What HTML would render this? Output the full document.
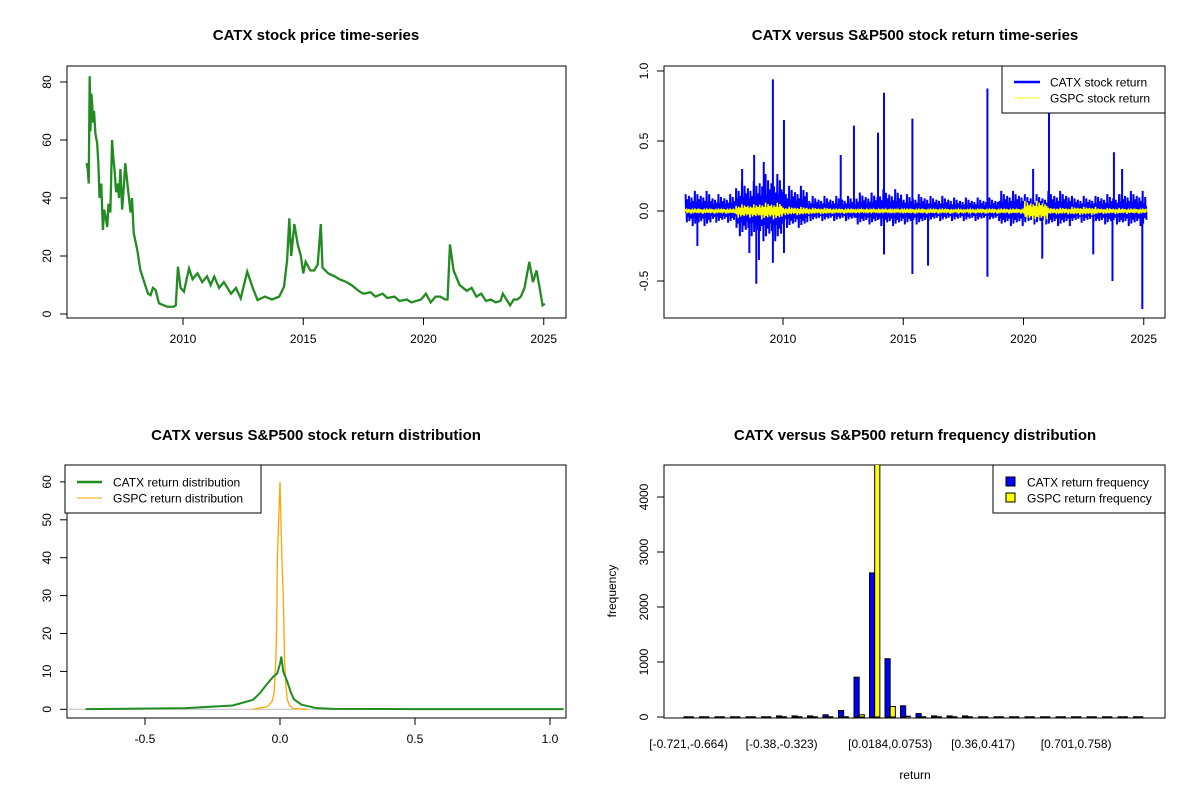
<!DOCTYPE html>
<html><head><meta charset="utf-8"><style>
html,body{margin:0;padding:0;background:#fff;}
svg{display:block;font-family:"Liberation Sans",Arial,sans-serif;}
</style></head><body>
<svg id="chart" width="1200" height="800" viewBox="0 0 1200 800">
<rect x="0" y="0" width="1200" height="800" fill="#fff"/>
<g id="p1"></g>
<g id="p2"></g>
<g id="p3"></g>
<g id="p4"></g>
</svg>
<script>
// ---------- Panel 1: price ----------
const priceDates=[2005.99,2006.04,2006.08,2006.12,2006.15,2006.19,2006.22,2006.26,2006.3,2006.36,2006.43,2006.48,2006.53,2006.6,2006.67,2006.72,2006.77,2006.85,2006.9,2006.98,2007.05,2007.1,2007.15,2007.22,2007.28,2007.34,2007.4,2007.47,2007.54,2007.6,2007.7,2007.82,2007.88,2007.95,2008.1,2008.23,2008.35,2008.45,2008.55,2008.65,2008.75,2008.86,2009.0,2009.2,2009.35,2009.6,2009.7,2009.79,2009.9,2010.04,2010.15,2010.25,2010.4,2010.6,2010.8,2011.0,2011.15,2011.3,2011.5,2011.7,2012.0,2012.2,2012.4,2012.67,2012.9,2013.1,2013.4,2013.7,2014.0,2014.2,2014.33,2014.42,2014.5,2014.63,2014.77,2014.9,2015.0,2015.1,2015.3,2015.45,2015.6,2015.73,2015.8,2016.04,2016.3,2016.5,2016.8,2017,2017.3,2017.5,2017.8,2018,2018.3,2018.5,2018.8,2019,2019.3,2019.5,2019.7,2019.9,2020.1,2020.3,2020.5,2020.7,2020.9,2021.0,2021.1,2021.25,2021.5,2021.8,2022.0,2022.2,2022.4,2022.6,2022.8,2023,2023.2,2023.3,2023.45,2023.6,2023.75,2023.9,2024.05,2024.2,2024.4,2024.55,2024.7,2024.85,2024.95,2025.05];
const priceValues=[52,50,45,82,63,76,73,66,70,62,59,52,40,45,29,36,34,30,38,35,60,54,50,42,45,40,50,36,44,52,44,35,40,28,22,15,12,9.4,7,6.5,9,8.3,3.7,3,2.5,2.5,3,16.3,9,7.7,12,15.7,12,14,11,13,10,12.9,9,11,7,9,5.4,14.6,9,4.8,6,5,6,9.4,18.6,33,20,31,24,20,14,18,15,15,17,31,16,14,13,12,11,10,8,7,7.5,6,7,5.5,6,4.5,5,4,4.5,5,7,4,6,6,5,5,24,15,10,8,9,6,7,4.5,5,4,4.5,7,5,3,5,5,6,9,18,11,15,8,3,3.5];
const priceYTicks=[0,20,40,60,80];
const yearTicks=[2010,2015,2020,2025];
// ---------- Panel 2: returns ----------
const envYears=[2006,2007,2008,2009,2010,2011,2012,2013,2014,2015,2016,2017,2018,2019,2020,2021,2022,2023,2024,2025];
const catxUpper=[0.12,0.10,0.18,0.22,0.15,0.09,0.09,0.11,0.13,0.10,0.09,0.08,0.08,0.12,0.10,0.12,0.09,0.10,0.12,0.10];
const catxLower=[-0.09,-0.07,-0.15,-0.18,-0.10,-0.06,-0.06,-0.08,-0.09,-0.08,-0.06,-0.06,-0.06,-0.09,-0.08,-0.09,-0.07,-0.08,-0.09,-0.07];
const gspcAmp=[0.015,0.015,0.04,0.05,0.025,0.02,0.015,0.012,0.012,0.015,0.015,0.01,0.015,0.015,0.06,0.02,0.025,0.018,0.015,0.015];
const spikeDates=[2009.58,2010.04,2008.89,2009.58,2010.04,2008.8,2012.95,2014.2,2013.95,2015.38,2015.38,2016.03,2014.2,2018.5,2018.5,2021.06,2020.78,2023.76,2023.7,2024.94,2024.1,2012.4,2020.4,2008.3,2006.44,2022.9,2009.2,2009.0,2008.6];
const spikeValues=[0.94,0.65,-0.52,-0.37,-0.30,0.40,0.61,0.845,0.56,0.66,-0.45,-0.39,-0.31,0.875,-0.47,0.70,-0.34,0.42,-0.50,-0.70,0.30,0.40,0.30,0.30,-0.25,-0.31,0.35,-0.35,-0.30];
const retYTicks=[-0.5,0,0.5,1.0];
const retYLabels=["-0.5","0.0","0.5","1.0"];
// ---------- Panel 3: densities ----------
const catxDensX=[-0.72,-0.35,-0.175,-0.1,-0.075,-0.05,-0.025,-0.01,0,0.005,0.012,0.027,0.04,0.052,0.08,0.136,0.2,0.5,1.05];
const catxDensY=[0.05,0.3,1.0,2.5,4.2,6.5,8.6,9.5,12,13.9,10,7.3,4.5,2.6,1.2,0.3,0.1,0.05,0.05];
const gspcDensX=[-0.1,-0.047,-0.03,-0.022,-0.016,-0.012,-0.01,-0.005,0,0.004,0.008,0.012,0.017,0.022,0.027,0.035,0.05,0.1];
const gspcDensY=[0,0.7,2,4.2,12,21.8,39,50,60,48,38,30,13,6,2.5,1,0.2,0];
const densXTicks=[-0.5,0,0.5,1.0];
const densXLabels=["-0.5","0.0","0.5","1.0"];
const densYTicks=[0,10,20,30,40,50,60];
// ---------- Panel 4: histogram ----------
const binIndex=[0,1,2,3,4,5,6,7,8,9,10,11,12,13,14,15,16,17,18,19,20,21,22,23,24,25,26,27,28,29];
const catxCounts=[0,0,0,0,0,0,20,20,20,40,118,724,2620,1060,204,62,20,20,20,0,0,0,0,0,0,0,0,0,0,0];
const gspcCounts=[0,0,0,0,0,0,0,0,0,0,0,40,4700,191,10,0,0,0,0,0,0,0,0,0,0,0,0,0,0,0];
const binLabelIdx=[0,6,13,19,25];
const binLabels=["[-0.721,-0.664)","[-0.38,-0.323)","[0.0184,0.0753)","[0.36,0.417)","[0.701,0.758)"];
const freqYTicks=[0,1000,2000,3000,4000];

const NS="http://www.w3.org/2000/svg";
function mk(parent,tag,attrs,txt){const e=document.createElementNS(NS,tag);for(const k in attrs)e.setAttribute(k,attrs[k]);if(txt!==undefined)e.textContent=txt;parent.appendChild(e);return e;}
const P1=document.getElementById('p1'),P2=document.getElementById('p2'),P3=document.getElementById('p3'),P4=document.getElementById('p4');

function frame(g,x0,y0,x1,y1,title,tx,ty){
  let r=mk(g,'rect',{x:x0,y:y0,width:x1-x0,height:y1-y0,fill:'none',stroke:'#000','stroke-width':1});
  
  
  let t=mk(g,'text',{x:tx,y:ty,'text-anchor':'middle','font-size':15,'font-weight':'bold'},title);
  
  
}
function xAxis(g,ticks,labels,sx,yb){
  let l=mk(g,'line',{x1:sx(ticks[0]),x2:sx(ticks[ticks.length-1]),y1:yb,y2:yb,stroke:'#000'});
  
  
  ticks.forEach((v,i)=>{
    let t=mk(g,'line',{x1:sx(v),x2:sx(v),y1:yb,y2:yb+7,stroke:'#000'});
    
    
    let s=mk(g,'text',{x:sx(v),y:yb+25,'text-anchor':'middle','font-size':12},labels[i]);
    
    
  });
}
function yAxis(g,ticks,labels,sy,xb){
  let l=mk(g,'line',{x1:xb,x2:xb,y1:sy(ticks[0]),y2:sy(ticks[ticks.length-1]),stroke:'#000'});
  
  
  ticks.forEach((v,i)=>{
    let t=mk(g,'line',{x1:xb-7,x2:xb,y1:sy(v),y2:sy(v),stroke:'#000'});
    
    
    let x=xb-16;
    let s=mk(g,'text',{x:x,y:sy(v),'text-anchor':'middle','font-size':12,transform:`rotate(-90 ${x} ${sy(v)})`},labels[i]);
    
    
  });
}

// Panel 1
const p1x=y=>183+(y-2010)*24.05, p1y=v=>314-v*2.9;
frame(P1,67,66,566,318,'CATX stock price time-series',316,40);
xAxis(P1,yearTicks,yearTicks.map(String),p1x,318);
yAxis(P1,priceYTicks,priceYTicks.map(String),p1y,67);
let pl=mk(P1,'polyline',{points:priceDates.map((d,i)=>p1x(d)+','+p1y(priceValues[i])).join(' '),fill:'none',stroke:'#228B22','stroke-width':2.3,'stroke-linejoin':'miter'});



// Panel 2
const p2x=y=>783+(y-2010)*24.05, p2y=v=>211-v*140;
frame(P2,664,66,1165,318,'CATX versus S&P500 stock return time-series',915,40);
xAxis(P2,yearTicks,yearTicks.map(String),p2x,318);
yAxis(P2,retYTicks,retYLabels,p2y,664);
const pattern=[1,0.35,0.7,0.15,0.9,0.5,0.25,0.8,0.4,0.6,0.3,1.2,0.2,0.55];
function envAt(arr,t){let i=Math.min(Math.max(Math.floor(t-envYears[0]),0),arr.length-1);return arr[i];}
let bpts=[],ypts=[],k=0;
for(let t=2005.95;t<=2025.1;t+=0.035,k++){
  const m=pattern[k%pattern.length];
  bpts.push(p2x(t)+','+p2y(envAt(catxUpper,t)*m));
  bpts.push(p2x(t+0.017)+','+p2y(envAt(catxLower,t)*pattern[(k+3)%pattern.length]));
  ypts.push(p2x(t)+','+p2y(envAt(gspcAmp,t)*m));
  ypts.push(p2x(t+0.017)+','+p2y(-envAt(gspcAmp,t)*pattern[(k+5)%pattern.length]));
}
let bl=mk(P2,'polyline',{points:bpts.join(' '),fill:'none',stroke:'#0000FF','stroke-width':2});


spikeDates.forEach((d,i)=>{
  let s=mk(P2,'line',{x1:p2x(d),x2:p2x(d),y1:p2y(0),y2:p2y(spikeValues[i]),stroke:'#0000FF','stroke-width':2});
  
  
});
let yl=mk(P2,'polyline',{points:ypts.join(' '),fill:'none',stroke:'#FFFF00','stroke-width':1.5});


let lg2=mk(P2,'g',{});


mk(lg2,'rect',{x:1002,y:66,width:163,height:47,fill:'#fff',stroke:'#000'});
mk(lg2,'line',{x1:1014,x2:1040,y1:82,y2:82,stroke:'#0000FF','stroke-width':2.5});
mk(lg2,'line',{x1:1014,x2:1040,y1:98,y2:98,stroke:'#FFFF00','stroke-width':1});
mk(lg2,'text',{x:1050,y:86.5,'font-size':12},'CATX stock return');
mk(lg2,'text',{x:1050,y:102.5,'font-size':12},'GSPC stock return');

// Panel 3
const p3x=x=>280+x*270, p3y=v=>709.3-v*3.79;
frame(P3,67,465,566,718,'CATX versus S&P500 stock return distribution',316,440);
xAxis(P3,densXTicks,densXLabels,p3x,718);
yAxis(P3,densYTicks,densYTicks.map(String),p3y,67);
let base=mk(P3,'line',{x1:67,x2:566,y1:p3y(0),y2:p3y(0),stroke:'#bbb'});


let gd=mk(P3,'polyline',{points:gspcDensX.map((x,i)=>p3x(x)+','+p3y(gspcDensY[i])).join(' '),fill:'none',stroke:'#FFA500','stroke-width':1.3});


let cd=mk(P3,'polyline',{points:catxDensX.map((x,i)=>p3x(x)+','+p3y(catxDensY[i])).join(' '),fill:'none',stroke:'#228B22','stroke-width':2});


let lg3=mk(P3,'g',{});


mk(lg3,'rect',{x:65,y:465,width:196,height:48,fill:'#fff',stroke:'#000'});
mk(lg3,'line',{x1:77,x2:102,y1:482,y2:482,stroke:'#228B22','stroke-width':2.5});
mk(lg3,'line',{x1:77,x2:102,y1:498,y2:498,stroke:'#FFA500','stroke-width':1});
mk(lg3,'text',{x:113,y:486.5,'font-size':12},'CATX return distribution');
mk(lg3,'text',{x:113,y:502.5,'font-size':12},'GSPC return distribution');

// Panel 4
const p4y=c=>717-c*0.055, p4x=i=>683.5+i*15.5, bw=5.17;
frame(P4,664,465,1165,718,'CATX versus S&P500 return frequency distribution',915,440);
yAxis(P4,freqYTicks,freqYTicks.map(String),p4y,664);
const clip=mk(P4,'clipPath',{id:'c4'});
mk(clip,'rect',{x:664,y:465,width:501,height:253});
const bars=mk(P4,'g',{'clip-path':'url(#c4)'});


function bar(x,c,fill,name){
  let e;
  if(c*0.055<1){
    e=mk(bars,'line',{x1:x,x2:x+bw,y1:p4y(c),y2:p4y(c),stroke:'#000','stroke-width':1.5});
  } else {
    e=mk(bars,'rect',{x:x,y:p4y(c),width:bw,height:c*0.055,fill:fill,stroke:'#000','stroke-width':1});
  }
  return e;
}
binIndex.forEach((b,i)=>{
  let r1=bar(p4x(b),catxCounts[i],'#0000FF');
  
  
  let r2=bar(p4x(b)+bw,gspcCounts[i],'#FFFF00');
  
  
});
binLabelIdx.forEach((b,i)=>{
  let t=mk(P4,'text',{x:p4x(b)+bw,y:748,'text-anchor':'middle','font-size':12},binLabels[i]);
  
  
});
let xt=mk(P4,'text',{x:915,y:779,'text-anchor':'middle','font-size':12},'return');


let ytl=mk(P4,'text',{x:616,y:591,'text-anchor':'middle','font-size':12,transform:'rotate(-90 616 591)'},'frequency');


let lg4=mk(P4,'g',{});


mk(lg4,'rect',{x:993,y:465,width:172,height:48,fill:'#fff',stroke:'#000'});
mk(lg4,'rect',{x:1006,y:477,width:9,height:9,fill:'#0000FF',stroke:'#000'});
mk(lg4,'rect',{x:1006,y:493,width:9,height:9,fill:'#FFFF00',stroke:'#000'});
mk(lg4,'text',{x:1027,y:486.5,'font-size':12},'CATX return frequency');
mk(lg4,'text',{x:1027,y:502.5,'font-size':12},'GSPC return frequency');
</script>
</body></html>
